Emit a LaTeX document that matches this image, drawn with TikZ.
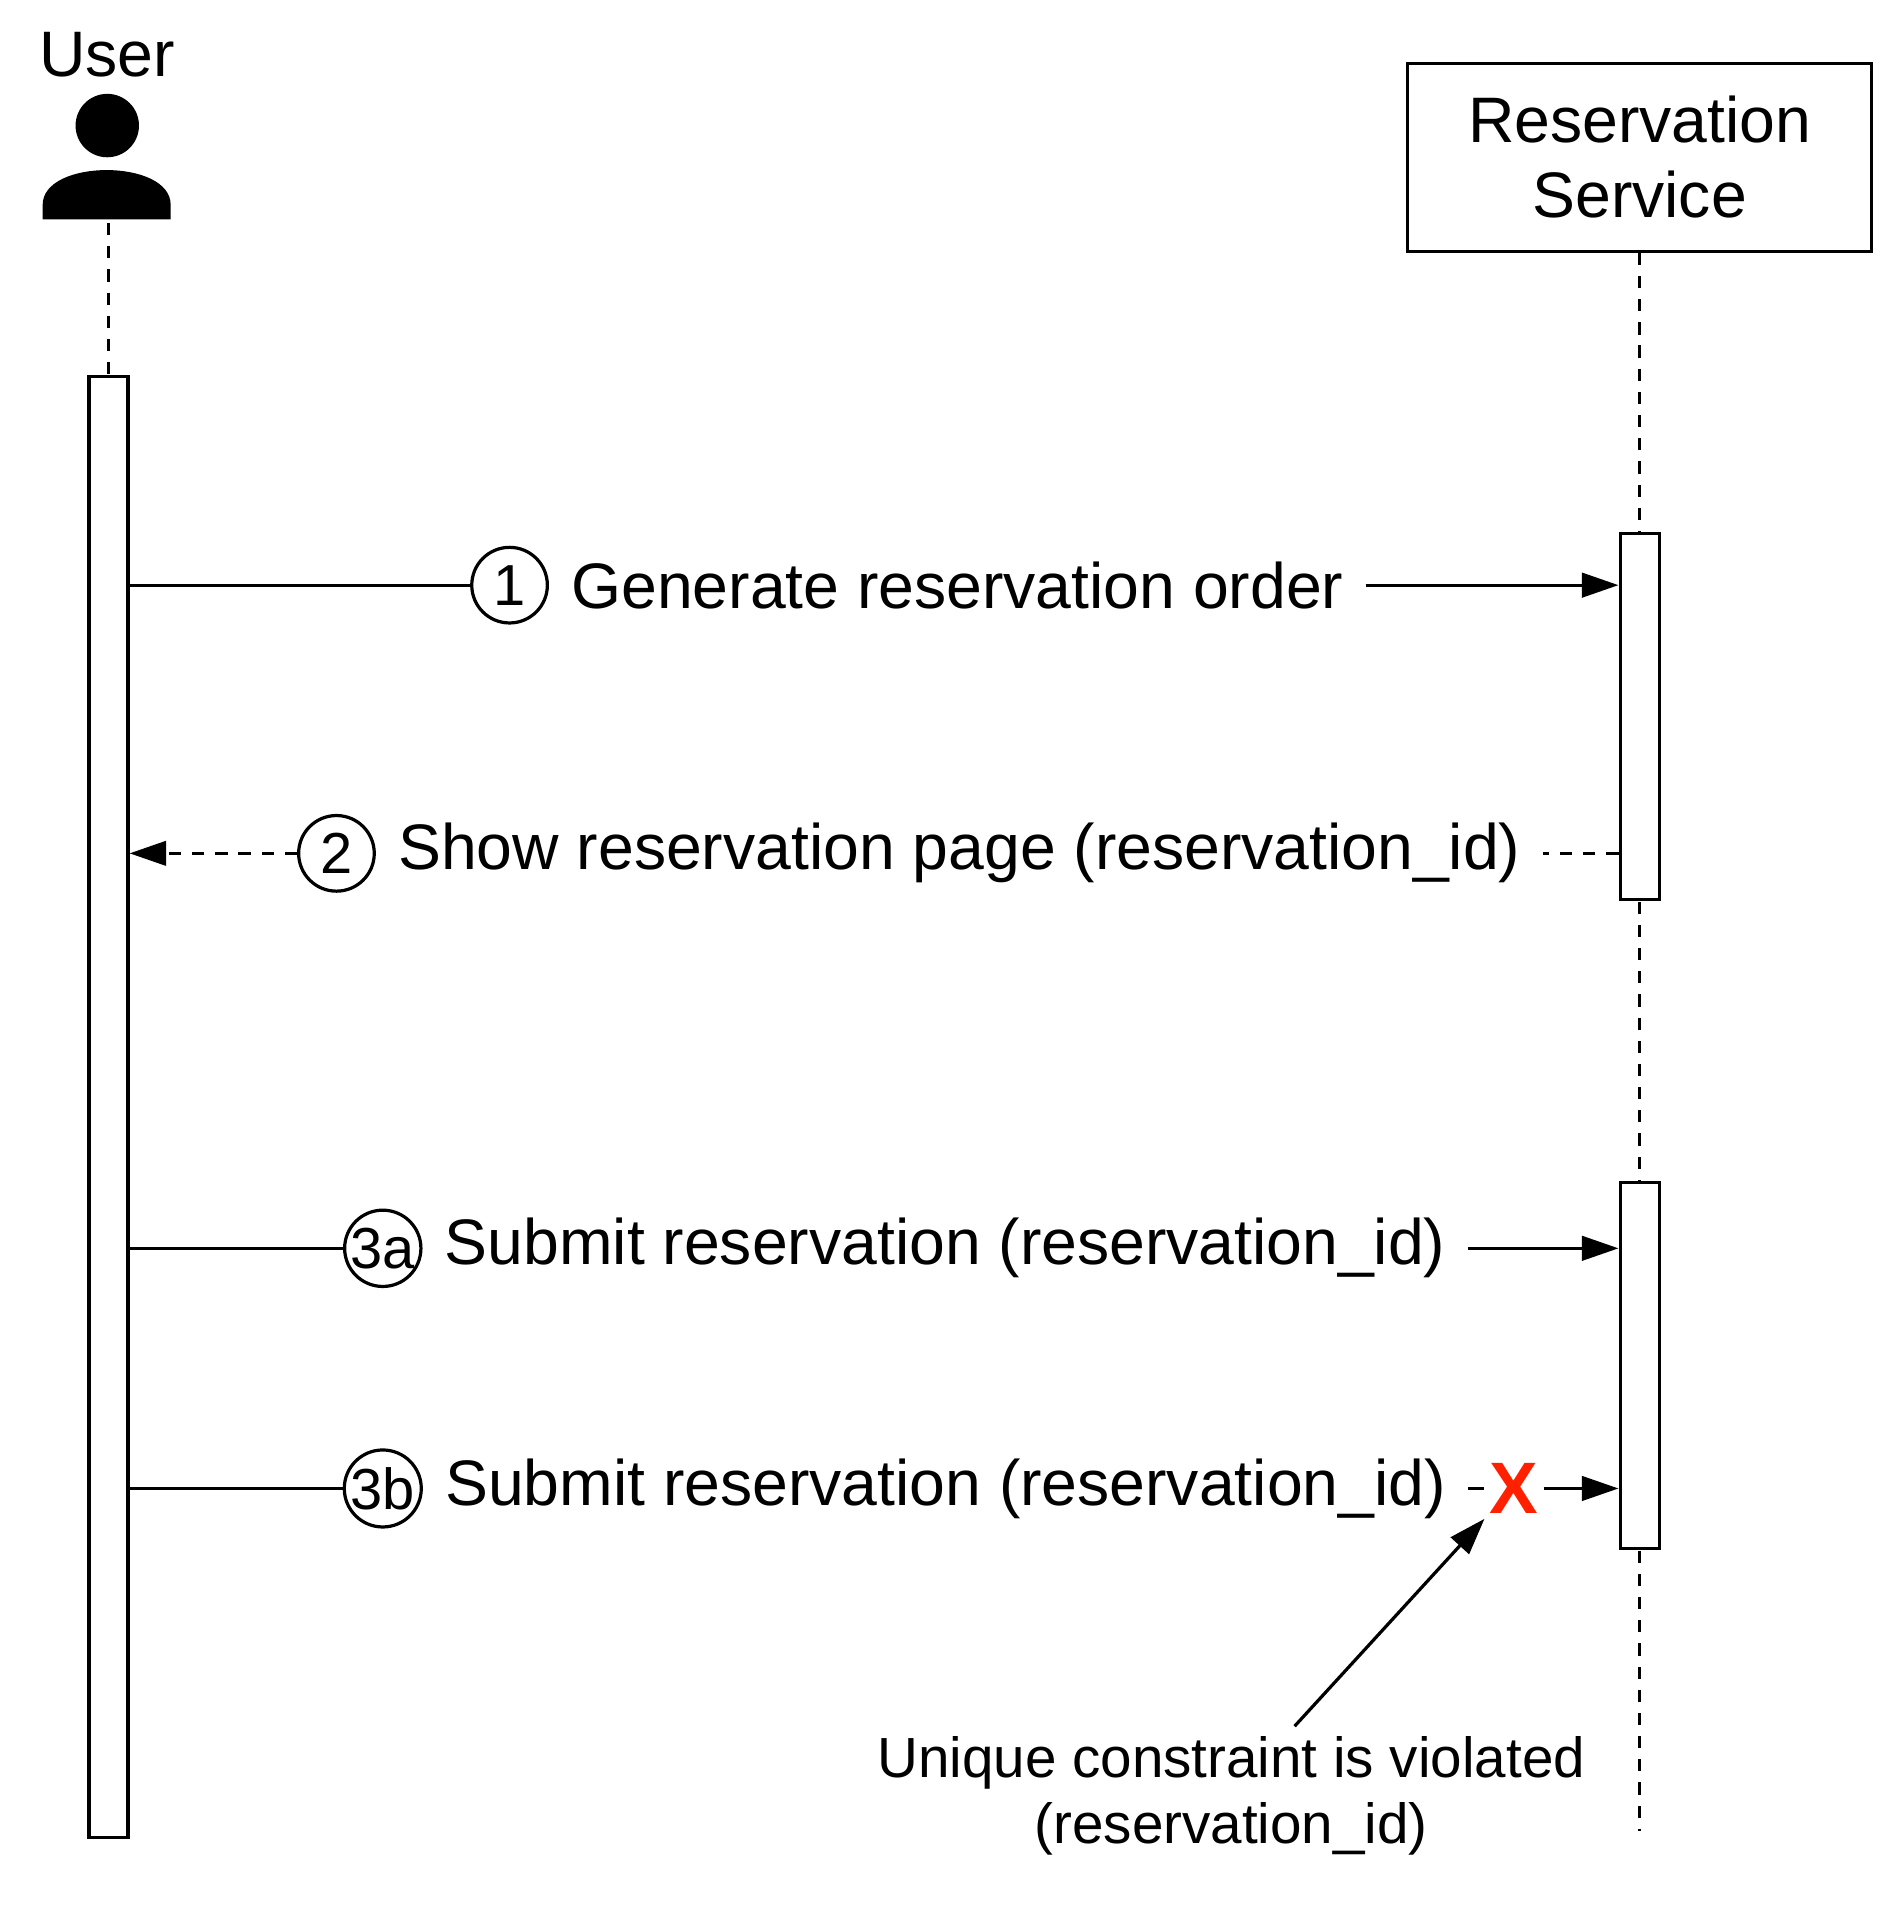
\documentclass[tikz,border=0pt]{standalone}
\usepackage{fontspec}
\setmainfont{Liberation Sans}
\usetikzlibrary{arrows.meta}
\usetikzlibrary{positioning}

\begin{document}
\begin{tikzpicture} [
            x=0.01cm, y=-0.01cm, line width=0.75pt,
            % ----- Node definitions ----- %
            actbox/.style = {draw, fill=white, minimum width=0.32cm, inner sep=0},
            stepnode/.style = {draw, circle, minimum size=0.62cm, inner sep=0,
                font=\fontsize{13.5}{14}\selectfont},
            msgnode/.style = {inner xsep=0.17cm, inner ysep=0, anchor=west,
                font=\fontsize{15}{17}\selectfont},
            lifeline/.style = {dash pattern=on 0.1cm off 0.09cm},
            msgtip/.style = {-{Triangle[length=0.3cm,width=0.2cm]}},
    ]
    \useasboundingbox (0,0) rectangle (1560,1575);

            % ----- Participants ----- %
        \node [font=\fontsize{15}{17}\selectfont] (user) at (88,45) {User};
        \fill (88,103) circle (0.26cm);
        \fill (35,180) -- (35,168) .. controls (35,130) and (140,130) .. (140,168) -- (140,180) -- cycle;
        \coordinate (userfoot) at (89,183);
        \node [draw, minimum width=3.8cm, minimum height=1.54cm, align=center,
            font=\fontsize{15}{17.5}\selectfont] (service) at (1345,129) {Reservation\\Service};

            % ----- Lifelines and activations ----- %
        \coordinate (svcend) at (1345,1502);
        \draw [lifeline] (userfoot) -- (89,308);
        \draw [lifeline] (service.south) -- (svcend);
        \node [actbox, minimum height=11.98cm] (useract) at (89,908) {};
        \node [actbox, minimum height=3.0cm] (svcact1) at (1345,588) {};
        \node [actbox, minimum height=3.0cm] (svcact2) at (1345,1120) {};

            % ----- Messages ----- %
        \node [stepnode] (step1) at (418,480) {1};
        \node [msgnode, right=0 of step1] (msg1) {Generate reservation order};
        \draw (useract.east |- step1) -- (step1);
        \draw [msgtip] (msg1) -- (svcact1.west |- msg1);

        \node [stepnode] (step2) at (276,700) {2};
        \node [msgnode, right=0 of step2] (msg2) {Show reservation page (reservation\_id)};
        \draw [lifeline] (svcact1.west |- msg2) -- (msg2);
        \draw [lifeline, msgtip] (step2) -- (useract.east |- step2);

        \node [stepnode] (step3a) at (314,1024) {3a};
        \node [msgnode, right=0 of step3a] (msg3a) {Submit reservation (reservation\_id)};
        \draw (useract.east |- step3a) -- (step3a);
        \draw [msgtip] (msg3a) -- (svcact2.west |- msg3a);

        \node [stepnode] (step3b) at (314,1221) {3b};
        \node [msgnode, right=0 of step3b] (msg3b) {Submit reservation (reservation\_id)};
        \node [text=red!75!orange, inner sep=0.03cm, font=\fontsize{17}{17}\selectfont\bfseries] (fail) at (1242,1221) {X};
        \draw (useract.east |- step3b) -- (step3b);
        \draw (msg3b) -- (fail);
        \draw [msgtip] (fail) -- (svcact2.west |- fail);

            % ----- Annotation ----- %
        \node [align=center, font=\fontsize{13.2}{15.5}\selectfont] (violated) at (1010,1473)
            {Unique constraint is violated\\(reservation\_id)};
        \coordinate (notetail) at (1062,1416);
        \draw [msgtip] (notetail) -- (fail.south west);

\end{tikzpicture}
\end{document}
